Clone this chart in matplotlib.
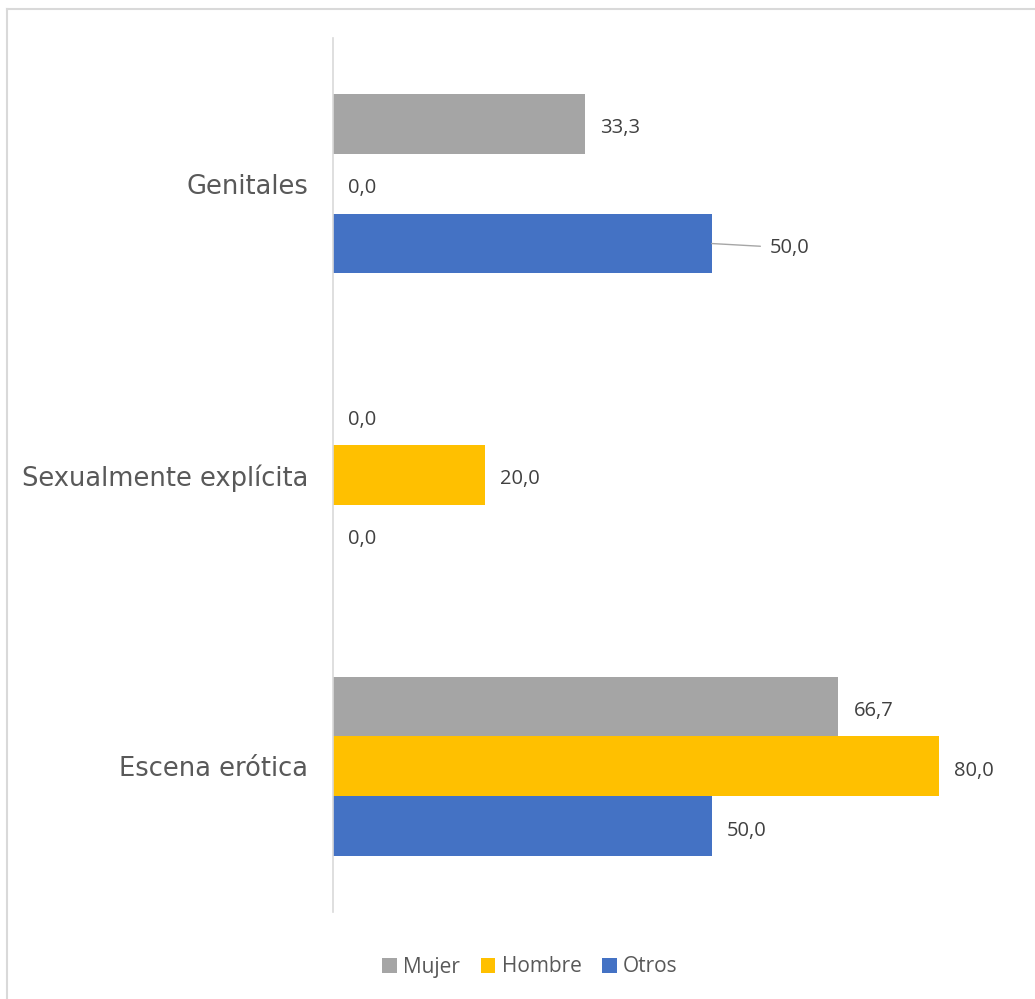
import matplotlib
matplotlib.use("Agg")
from matplotlib import pyplot as plt
from matplotlib.lines import Line2D
import numpy as np

categories = ["Escena erótica", "Sexualmente explícita", "Genitales"]
series = ["Mujer", "Hombre", "Otros"]
mujer = [66.7, 0.0, 33.3]
hombre = [80.0, 20.0, 0.0]
otros = [50.0, 0.0, 50.0]
colors = ["#A5A5A5", "#FFC000", "#4472C4"]


def fmt(v):
    return ("%.1f" % v).replace(".", ",")


def main():
    fig = plt.figure(figsize=(10.35, 9.99), dpi=100)
    # chart frame (only top and left edges visible in the crop)
    fig.add_artist(Line2D([7/1035, 7/1035], [0, 1 - 9/999], transform=fig.transFigure,
                          color="#D9D9D9", lw=1.5))
    fig.add_artist(Line2D([7/1035, 1], [1 - 9/999, 1 - 9/999], transform=fig.transFigure,
                          color="#D9D9D9", lw=1.5))

    xmax = 85.0
    left = 333 / 1035
    width = xmax * 7.575 / 1035
    ax = fig.add_axes([left, 1 - 912/999, width, (912 - 38) / 999])

    y = np.arange(len(categories))
    h = 0.2055
    data = [mujer, hombre, otros]
    offsets = [h, 0, -h]
    for vals, off, c, name in zip(data, offsets, colors, series):
        ax.barh(y + off, vals, height=h, color=c, label=name)
        for yi, v in zip(y, vals):
            if name == "Otros" and categories[yi] == "Genitales":
                ax.annotate(fmt(v), xy=(v, yi + off), xytext=(v + 7.7, yi + off - 0.015),
                            va="center", ha="left", fontsize=14.5, color="#404040",
                            family="Open Sans",
                            arrowprops=dict(arrowstyle="-", color="#A6A6A6", lw=1,
                                            shrinkA=5, shrinkB=0))
            else:
                ax.text(v + 2.0, yi + off - 0.015, fmt(v), va="center", ha="left",
                        fontsize=14.5, color="#404040", family="Open Sans")

    ax.set_xlim(0, xmax)
    ax.set_ylim(-0.5, 2.5)
    ax.set_yticks(y)
    ax.set_yticklabels(categories, fontsize=18.5, color="#595959", family="DejaVu Sans")
    ax.tick_params(axis="y", length=0, pad=18)
    ax.set_xticks([])
    for s in ["top", "right", "bottom"]:
        ax.spines[s].set_visible(False)
    ax.spines["left"].set_color("#D9D9D9")
    ax.spines["left"].set_linewidth(1.2)

    fig.legend(loc="center", bbox_to_anchor=(530/1035, 1 - 967/999), ncol=3,
               frameon=False, handlelength=0.7, handleheight=0.7, handletextpad=0.3,
               columnspacing=1.0, prop={"family": "Open Sans", "size": 15},
               labelcolor="#595959")

    plt.savefig("out.png", dpi=100)


if (__name__ == "__main__"):
    main()
